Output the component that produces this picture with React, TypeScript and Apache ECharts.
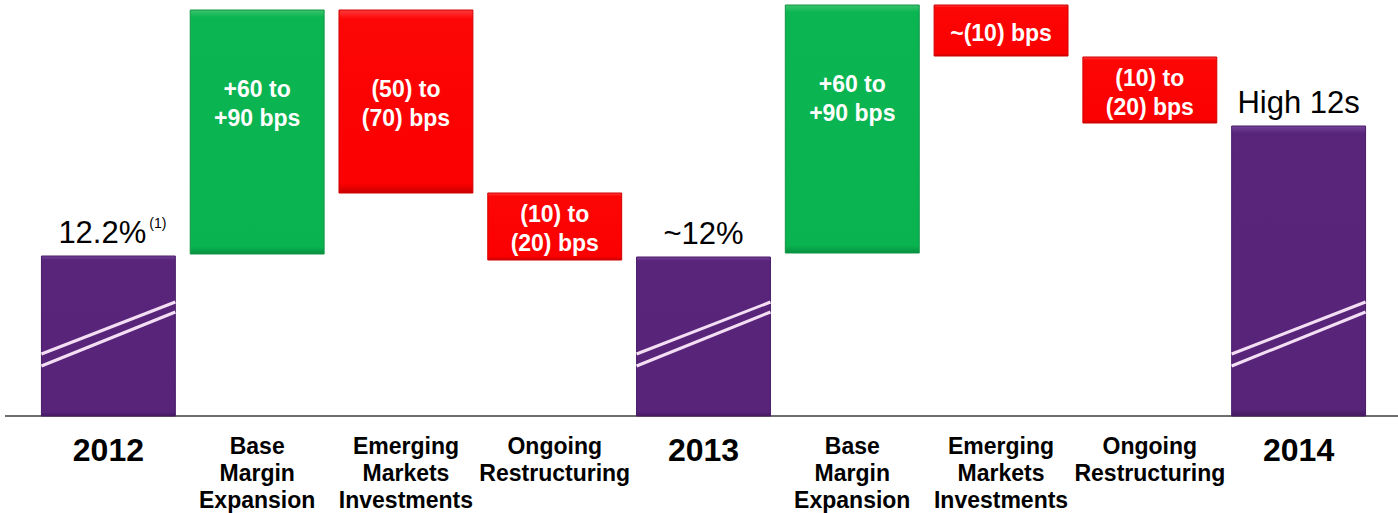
import React, { useEffect, useRef } from "react";
import * as echarts from "echarts";

// ---- data (illustrative bar extents in chart units, baseline = 0) ----
const categories = [
  "2012",
  "Base\nMargin\nExpansion",
  "Emerging\nMarkets\nInvestments",
  "Ongoing\nRestructuring",
  "2013",
  "Base\nMargin\nExpansion",
  "Emerging\nMarkets\nInvestments",
  "Ongoing\nRestructuring",
  "2014",
];
const kinds = ["total", "increase", "decrease", "decrease", "total", "increase", "decrease", "decrease", "total"];
const barBottoms = [0, 162, 223, 156, 0, 163, 360, 293, 0];
const barTops = [160, 406, 406, 223, 159, 411, 411, 359, 290];
const barLabels = [
  "12.2%",
  "+60 to\n+90 bps",
  "(50) to\n(70) bps",
  "(10) to\n(20) bps",
  "~12%",
  "+60 to\n+90 bps",
  "~(10) bps",
  "(10) to\n(20) bps",
  "High 12s",
];
const footnotes = ["(1)", "", "", "", "", "", "", "", ""];

// ---- layout / style constants ----
const W = 1398;
const H = 513;
const GRID_BOTTOM = 97;
const Y_MAX = 416;
const FONT = "'Liberation Sans', Arial, Helvetica, sans-serif";
const BREAK_UPPER = [62, 114];
const BREAK_LOWER = [50, 104];

const fills: Record<string, any> = {
  total: new echarts.graphic.LinearGradient(0, 0, 0, 1, [
    { offset: 0, color: "#74449a" },
    { offset: 0.025, color: "#58257b" },
    { offset: 0.975, color: "#57247a" },
    { offset: 1, color: "#45195f" },
  ]),
  increase: new echarts.graphic.LinearGradient(0, 0, 0, 1, [
    { offset: 0, color: "#3cc46e" },
    { offset: 0.03, color: "#0ab552" },
    { offset: 0.97, color: "#08b350" },
    { offset: 1, color: "#078f40" },
  ]),
  decrease: new echarts.graphic.LinearGradient(0, 0, 0, 1, [
    { offset: 0, color: "#ff3a3a" },
    { offset: 0.05, color: "#fd0606" },
    { offset: 0.95, color: "#fb0000" },
    { offset: 1, color: "#c80000" },
  ]),
};
const strokes: Record<string, string> = {
  total: "#4a1b68",
  increase: "#119545",
  decrease: "#d00000",
};

export default function App() {
  const ref = useRef<HTMLDivElement>(null);

  useEffect(() => {
    document.body.style.margin = "0";
    if (!ref.current) return;
    const chart = echarts.init(ref.current, undefined, { renderer: "svg" });

    const renderItem = (params: any, api: any) => {
      const i = api.value(0);
      const lo = api.value(1);
      const hi = api.value(2);
      const kind = kinds[i];
      const p0 = api.coord([i, lo]);
      const p1 = api.coord([i, hi]);
      const w = api.size([1, 0])[0] * 0.9;
      const x = p0[0] - w / 2;
      const y = p1[1];
      const h = p0[1] - p1[1];
      const cx = p0[0];
      const children: any[] = [
        {
          type: "rect",
          shape: { x, y, width: w, height: h },
          style: { fill: fills[kind], stroke: strokes[kind], lineWidth: 1 },
        },
      ];
      if (kind === "total") {
        const lines = [BREAK_UPPER, BREAK_LOWER];
        lines.forEach((b) => {
          const yl = api.coord([i, b[0]])[1];
          const yr = api.coord([i, b[1]])[1];
          children.push({
            type: "line",
            shape: { x1: x, y1: yl, x2: x + w, y2: yr },
            style: { stroke: "#f4def4", lineWidth: 3 },
          });
        });
        const fn = footnotes[i];
        children.push({
          type: "text",
          style: {
            x: cx + (fn ? 4 : 0),
            y: y - 23.5,
            text: fn ? `{v|${barLabels[i]}}{s|${fn}}` : `{v|${barLabels[i]}}`,
            align: "center",
            verticalAlign: "middle",
            fill: "#000",
            rich: {
              v: { fontFamily: FONT, fontSize: 31, lineHeight: 34, fill: "#000", color: "#000" },
              s: {
                fontFamily: FONT,
                fontSize: 14,
                lineHeight: 16,
                verticalAlign: "top",
                padding: [0, 0, 0, 3],
                fill: "#000",
                color: "#000",
              },
            },
          },
        });
      } else {
        const ty = h > 120 ? y + 93 : y + h / 2 + 2;
        children.push({
          type: "text",
          style: {
            x: cx,
            y: ty,
            text: barLabels[i],
            align: "center",
            verticalAlign: "middle",
            fill: "#fff",
            fontFamily: FONT,
            fontSize: 23,
            fontWeight: "bold",
            lineHeight: 29,
          },
        });
      }
      return { type: "group", children };
    };

    chart.setOption({
      animation: false,
      backgroundColor: "#fff",
      grid: { left: 34, right: 25, top: 0, bottom: GRID_BOTTOM },
      xAxis: {
        type: "category",
        data: categories,
        axisLine: { show: false },
        axisTick: { show: false },
        splitLine: { show: false },
        axisLabel: {
          interval: 0,
          margin: 16,
          formatter: (v: string, idx: number) => (kinds[idx] === "total" ? `{y|${v}}` : `{c|${v}}`),
          rich: {
            y: { fontFamily: FONT, fontSize: 32, fontWeight: "bold", lineHeight: 36, color: "#000" },
            c: { fontFamily: FONT, fontSize: 23, fontWeight: "bold", lineHeight: 27, color: "#000" },
          },
        },
      },
      yAxis: {
        type: "value",
        min: 0,
        max: Y_MAX,
        show: false,
        splitLine: { show: false },
      },
      graphic: [
        {
          type: "line",
          z: 1,
          shape: { x1: 5, y1: H - GRID_BOTTOM, x2: W, y2: H - GRID_BOTTOM },
          style: { stroke: "#6e6e6e", lineWidth: 2 },
        },
      ],
      series: [
        {
          type: "custom",
          z: 3,
          renderItem,
          encode: { x: 0, y: [1, 2] },
          data: categories.map((_, i) => [i, barBottoms[i], barTops[i]]),
        },
      ],
    });

    return () => chart.dispose();
  }, []);

  return <div ref={ref} style={{ width: W, height: H }} />;
}
